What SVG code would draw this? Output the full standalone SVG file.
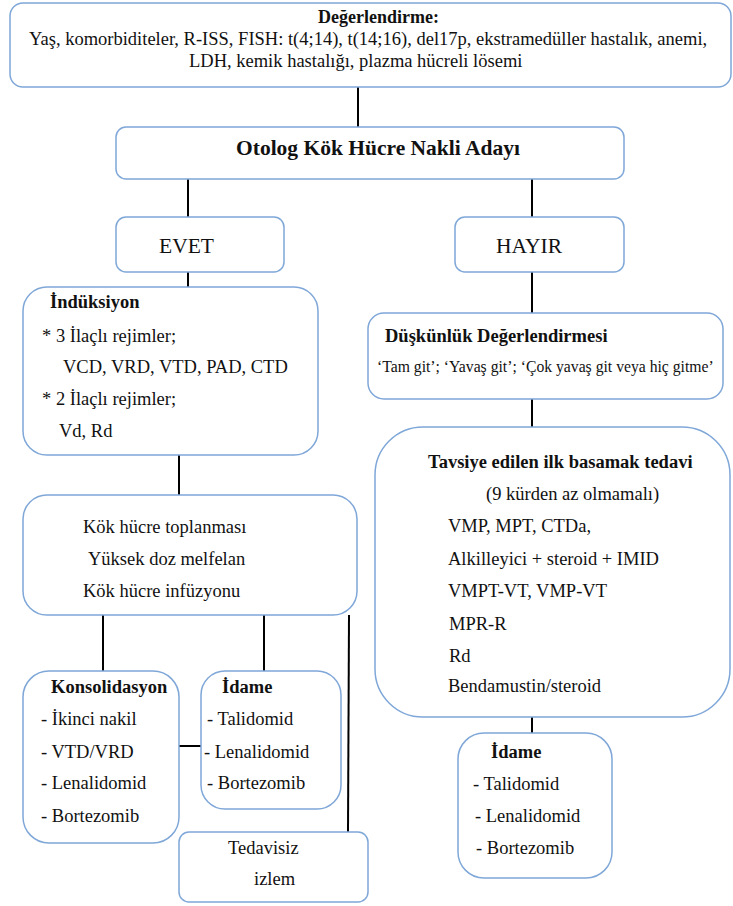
<svg xmlns="http://www.w3.org/2000/svg" width="733" height="906" viewBox="0 0 733 906">
<style>
.box{fill:#fff;stroke:#7fa7d8;stroke-width:1.5}
.c line{stroke:#000;stroke-width:2}
text{fill:#111;font-size:18.5px;font-family:'Liberation Serif','Times New Roman',Times,serif}
.b{font-weight:bold}
.h{font-size:18px}
.l{font-size:21.5px}
.s{font-size:15.7px}
</style>
<rect width="733" height="906" fill="#fff"/>
<g class="c" id="connectors">
<line x1="358" y1="87" x2="358" y2="127"/>
<line x1="188" y1="179" x2="188" y2="217"/>
<line x1="532" y1="179" x2="532" y2="217"/>
<line x1="188" y1="272" x2="188" y2="287"/>
<line x1="532" y1="272" x2="532" y2="313"/>
<line x1="179" y1="455" x2="179" y2="495"/>
<line x1="532" y1="399" x2="532" y2="427"/>
<line x1="103" y1="615" x2="103" y2="671"/>
<line x1="264" y1="615" x2="264" y2="671"/>
<line x1="349" y1="615" x2="348" y2="832"/>
<line x1="179" y1="746" x2="201" y2="746"/>
<line x1="532" y1="717" x2="532" y2="733"/>
</g>
<g id="degerlendirme">
<rect class="box" x="10" y="3" width="721" height="84" rx="13"/>
<text class="b h" x="318" y="23">Değerlendirme:</text>
<text x="29" y="45">Yaş, komorbiditeler, R-ISS, FISH: t(4;14), t(14;16), del17p, ekstramedüller hastalık, anemi,</text>
<text x="189" y="67">LDH, kemik hastalığı, plazma hücreli lösemi</text>
</g>
<g id="otolog">
<rect class="box" x="116" y="127" width="508" height="52" rx="10"/>
<text class="b l" x="236" y="155">Otolog Kök Hücre Nakli Adayı</text>
</g>
<g id="evet">
<rect class="box" x="116" y="217" width="168" height="55" rx="10"/>
<text class="l" x="159" y="253">EVET</text>
</g>
<g id="hayir">
<rect class="box" x="455" y="217" width="169" height="55" rx="10"/>
<text class="l" x="496" y="253">HAYIR</text>
</g>
<g id="induksiyon">
<rect class="box" x="23" y="287" width="295" height="168" rx="24"/>
<text class="b" x="50" y="308">İndüksiyon</text>
<text x="42" y="342">* 3 İlaçlı rejimler;</text>
<text x="63" y="373">VCD, VRD, VTD, PAD, CTD</text>
<text x="42" y="405">* 2 İlaçlı rejimler;</text>
<text x="59" y="437">Vd, Rd</text>
</g>
<g id="kokhucre">
<rect class="box" x="23" y="495" width="334" height="120" rx="24"/>
<text x="83" y="533">Kök hücre toplanması</text>
<text x="88" y="565">Yüksek doz melfelan</text>
<text x="83" y="597">Kök hücre infüzyonu</text>
</g>
<g id="konsolidasyon">
<rect class="box" x="23" y="671" width="156" height="172" rx="26"/>
<text class="b" x="51" y="693">Konsolidasyon</text>
<text x="41" y="725">- İkinci nakil</text>
<text x="41" y="758">- VTD/VRD</text>
<text x="41" y="789">- Lenalidomid</text>
<text x="41" y="822">- Bortezomib</text>
</g>
<g id="idame-left">
<rect class="box" x="201" y="671" width="140" height="138" rx="24"/>
<text class="b" x="222" y="693">İdame</text>
<text x="207" y="725">- Talidomid</text>
<text x="204" y="758">- Lenalidomid</text>
<text x="207" y="789">- Bortezomib</text>
</g>
<g id="tedavisiz">
<rect class="box" x="179" y="832" width="189" height="70" rx="10"/>
<text x="228" y="854">Tedavisiz</text>
<text x="254" y="885">izlem</text>
</g>
<g id="duskunluk">
<rect class="box" x="368" y="313" width="355" height="86" rx="16"/>
<text class="b" x="385" y="342">Düşkünlük Değerlendirmesi</text>
<text class="s" x="377" y="372">‘Tam git’; ‘Yavaş git’; ‘Çok yavaş git veya hiç gitme’</text>
</g>
<g id="tavsiye">
<rect class="box" x="375" y="427" width="355" height="290" rx="48"/>
<text class="b" x="428" y="468">Tavsiye edilen ilk basamak tedavi</text>
<text x="486" y="500">(9 kürden az olmamalı)</text>
<text x="448" y="532">VMP, MPT, CTDa,</text>
<text x="448" y="565">Alkilleyici + steroid + IMID</text>
<text x="448" y="597">VMPT-VT, VMP-VT</text>
<text x="449" y="630">MPR-R</text>
<text x="449" y="662">Rd</text>
<text x="448" y="692">Bendamustin/steroid</text>
</g>
<g id="idame-right">
<rect class="box" x="458" y="733" width="154" height="145" rx="26"/>
<text class="b" x="491" y="758">İdame</text>
<text x="473" y="790">- Talidomid</text>
<text x="475" y="822">- Lenalidomid</text>
<text x="476" y="854">- Bortezomib</text>
</g>
</svg>
